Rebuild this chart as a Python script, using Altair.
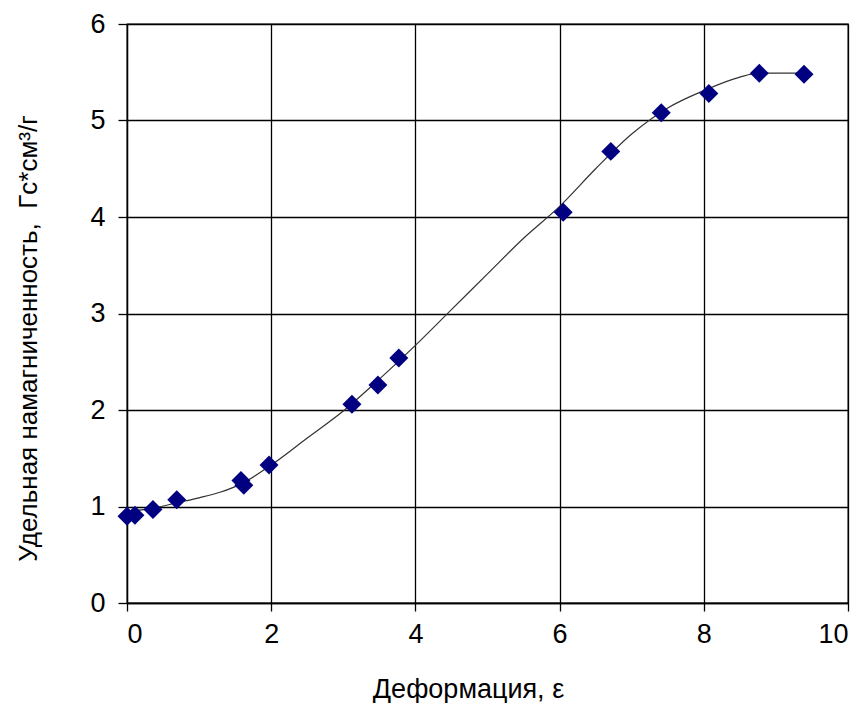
import altair as alt
import pandas as pd

# measured points
pt_x = [0.0, 0.11, 0.36, 0.69, 1.58, 1.62, 1.97, 3.12, 3.48, 3.77, 6.05, 6.71, 7.41, 8.07, 8.77, 9.39]
pt_y = [0.90, 0.91, 0.97, 1.07, 1.27, 1.22, 1.43, 2.06, 2.26, 2.54, 4.05, 4.68, 5.08, 5.28, 5.49, 5.48]

# fitted curve
cv_x = [0.0, 0.35, 0.7, 1.0, 1.3, 1.6, 2.0, 2.5, 3.0, 3.5, 4.0, 4.5, 5.0, 5.5, 6.0, 6.5, 7.0, 7.5, 8.0, 8.5, 8.77, 9.39]
cv_y = [0.95, 0.98, 1.04, 1.09, 1.15, 1.24, 1.43, 1.71, 1.99, 2.32, 2.67, 3.04, 3.41, 3.78, 4.11, 4.50, 4.86, 5.13, 5.31, 5.45, 5.49, 5.49]

x_ticks = [0, 2, 4, 6, 8, 10]
y_ticks = [0, 1, 2, 3, 4, 5, 6]

pts = pd.DataFrame({"x": pt_x, "y": pt_y})
cv = pd.DataFrame({"x": cv_x, "y": cv_y})

FONT = "Liberation Sans"

xs = alt.Scale(domain=[0, 10], nice=False, zero=False)
ys = alt.Scale(domain=[0, 6], nice=False, zero=False)

xaxis = alt.Axis(
    title="Деформация, ε", values=x_ticks, format="d",
    grid=True, gridColor="black", gridWidth=1.3, gridOpacity=1,
    domainColor="black", domainWidth=1.3, tickColor="black", tickSize=8, tickWidth=1.3,
    labelFont=FONT, labelFontSize=27, labelColor="black", labelPadding=10,
    titleFont=FONT, titleFontSize=27, titleFontWeight="normal", titleColor="black",
    titleX=341, titleY=94, titleAnchor="middle", titleBaseline="alphabetic",
)
yaxis = alt.Axis(
    title="Удельная намагниченность, \u00a0Гс*см³/г", values=y_ticks, format="d",
    grid=True, gridColor="black", gridWidth=1.3, gridOpacity=1,
    domainColor="black", domainWidth=1.3, tickColor="black", tickSize=9, tickWidth=1.3,
    labelFont=FONT, labelFontSize=27, labelColor="black", labelPadding=13,
    titleFont=FONT, titleFontSize=26, titleFontWeight="normal", titleColor="black",
    titleX=-91, titleY=314, titleAngle=-90, titleAlign="center", titleBaseline="alphabetic",
)

line = alt.Chart(cv).mark_line(color="#333333", strokeWidth=1.2, interpolate="monotone").encode(
    x=alt.X("x:Q", scale=xs, axis=xaxis),
    y=alt.Y("y:Q", scale=ys, axis=yaxis),
)
points = alt.Chart(pts).mark_point(shape="diamond", filled=True, color="#000080", size=360, opacity=1).encode(
    x=alt.X("x:Q", scale=xs),
    y=alt.Y("y:Q", scale=ys),
)

chart = (line + points).properties(
    width=721, height=579,
    padding={"left": 119, "top": 16, "right": 10, "bottom": 100},
    autosize=alt.AutoSizeParams(type="none"),
    background="white",
).configure_view(stroke="black", strokeWidth=1.3)

chart.save("out.html", embed_options={"renderer": "svg", "actions": False})
